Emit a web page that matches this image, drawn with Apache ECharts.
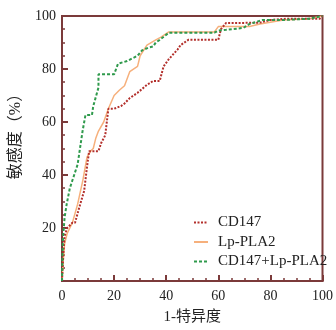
<!DOCTYPE html>
<html><head><meta charset="utf-8">
<script src="https://cdn.jsdelivr.net/npm/echarts@6/dist/echarts.min.js"></script>
<style>html,body{margin:0;padding:0;background:#fff}#c{width:336px;height:330px}</style>
</head><body><div id="c"></div>
<script>
const seriesNames = ['CD147', 'Lp-PLA2', 'CD147+Lp-PLA2'];
const xTicks = [0, 20, 40, 60, 80, 100];
const yTicks = [20, 40, 60, 80, 100];

const cd147X = [0,0.5,1,2,4,5,6.7,8.5,9.6,10.4,14,15,16.6,17.8,20,22.6,24,26,29,32.6,35,37.5,39,41,44.4,45.5,48.5,55,60,61,63,70,76,80,87,95,99,100];
const cd147Y = [0,10,17,20,22,22,28,34,43,49,49,52,55,65,65,66,67,69,71,74,75.5,75.5,81,83.7,87.4,89,91,91,91,95,97.4,97.4,97.5,98.5,99,99,99,100];

const lpX = [0,0.5,1,2,3,4,6,8,9.6,11,12,13,14,16,17.8,20,22,24,26,29,30,32.6,36,38,41,50,58.5,60,65,72,76,85,95,100];
const lpY = [0,8,14,18,20,22,29,38,46.7,49,50,54,56.6,60,65,70,72,73.7,79,81,85,89,91,92,94,94,94,96,96,96,97,98.5,99,100];

const comboX = [0,0.3,1,1.8,3,4,6,7.9,9,11.5,12,14,14,20,21.5,25,29,30.7,33,35,36,37.5,41,58.5,60,63,69.6,72,77,85,95,100];
const comboY = [0,15,24,29,35,38,44,56.6,62.6,62.6,66,73,78,78,82,83,85,87,88,88.5,90,91,93.7,93.7,94.5,94.8,95.5,97,98.5,98.5,99,100];

const pairs = (xs, ys) => xs.map((x, i) => [x, ys[i]]);
const frame = '#7b3a3a';
const font = '"Liberation Serif", "Noto Sans CJK SC", serif';

const chart = echarts.init(document.getElementById('c'), null, {renderer: 'canvas'});
chart.setOption({
  animation: false,
  backgroundColor: '#fff',
  grid: {left: 62, right: 4, top: 16, bottom: 44, show: true, borderColor: frame, borderWidth: 2},
  legend: {
    orient: 'vertical', left: 188, top: 210, itemWidth: 14, itemHeight: 14, itemGap: 4.5,
    itemStyle: {opacity: 0},
    textStyle: {fontFamily: font, fontSize: 15, color: '#222', padding: [0, 0, 0, 5]},
    data: seriesNames
  },
  xAxis: {
    type: 'value', min: 0, max: 100, interval: 20,
    name: '1-特异度', nameLocation: 'middle', nameGap: 29,
    nameTextStyle: {fontFamily: font, fontSize: 15, color: '#222'},
    axisLine: {lineStyle: {color: frame, width: 2}},
    axisTick: {inside: true, length: 6, lineStyle: {color: frame, width: 2}},
    minorTick: {show: true, splitNumber: 4, length: 3, lineStyle: {color: frame, width: 1.5}},
    splitLine: {show: false},
    axisLabel: {margin: 8, fontFamily: font, fontSize: 14, color: '#222',
      formatter: v => xTicks.includes(v) ? String(v) : ''}
  },
  yAxis: {
    type: 'value', min: 0, max: 100, interval: 20,
    name: '敏感度（%）', nameLocation: 'middle', nameGap: 35, nameRotate: 90,
    nameTextStyle: {fontFamily: font, fontSize: 16, color: '#222', padding: [0, 0, 0, 32]},
    axisLine: {lineStyle: {color: frame, width: 2}},
    axisTick: {inside: true, length: 6, lineStyle: {color: frame, width: 2}},
    minorTick: {show: true, splitNumber: 4, length: 3, lineStyle: {color: frame, width: 1.5}},
    splitLine: {show: false},
    axisLabel: {margin: 6, fontFamily: font, fontSize: 14, color: '#222',
      formatter: v => yTicks.includes(v) ? String(v) : ''}
  },
  series: [
    {name: seriesNames[0], type: 'line', data: pairs(cd147X, cd147Y), symbol: 'none', z: 3,
      itemStyle: {color: '#b3302c'},
      lineStyle: {color: '#b3302c', width: 2, type: [2, 1.5]}},
    {name: seriesNames[1], type: 'line', data: pairs(lpX, lpY), symbol: 'none', z: 2,
      itemStyle: {color: '#f6b07c'},
      lineStyle: {color: '#f6b07c', width: 1.5}},
    {name: seriesNames[2], type: 'line', data: pairs(comboX, comboY), symbol: 'none', z: 4,
      itemStyle: {color: '#2f9a4c'},
      lineStyle: {color: '#2f9a4c', width: 2, type: [3, 2]}}
  ]
});
</script></body></html>
